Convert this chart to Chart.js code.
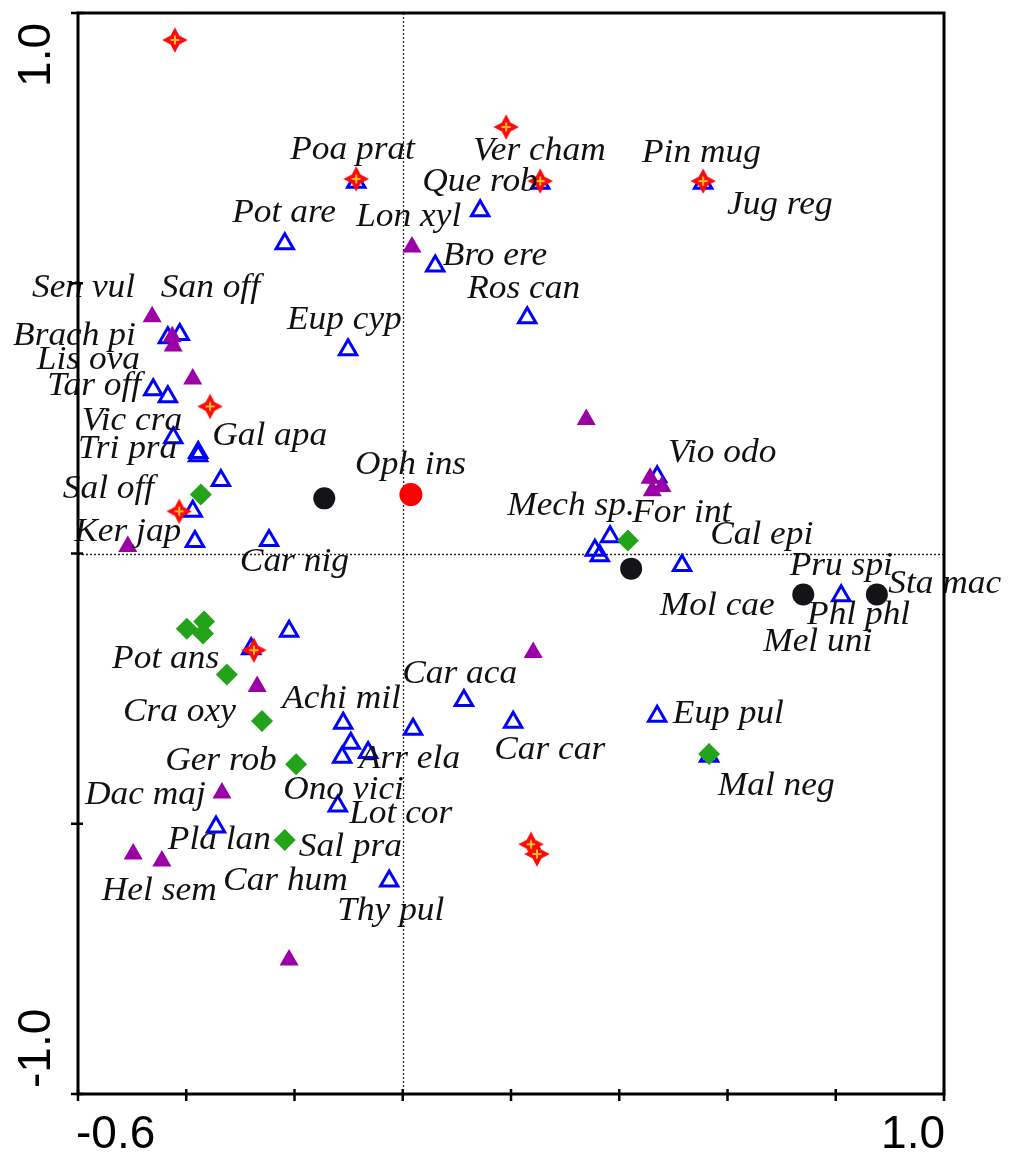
<!DOCTYPE html>
<html>
<head>
<meta charset="utf-8">
<script src="https://cdn.jsdelivr.net/npm/chart.js@4/dist/chart.umd.min.js"></script>
<style>
  html, body { margin: 0; padding: 0; background: #ffffff; }
  #wrap { width: 1009px; height: 1153px; }
</style>
</head>
<body>
<div id="wrap"><canvas id="ord" width="1009" height="1153"></canvas></div>
<script>
// Ordination scores (axis 1, axis 2) for each symbol group
const relevesStar = [
  [-0.421, 0.950], [-0.086, 0.693], [0.191, 0.789], [0.254, 0.689], [0.555, 0.689],
  [-0.356, 0.272], [-0.413, 0.078], [-0.275, -0.179], [0.237, -0.538], [0.248, -0.556]
];
const speciesOpen = [
  [-0.218, 0.573], [0.143, 0.634], [0.060, 0.532], [0.230, 0.436], [-0.101, 0.377],
  [-0.086, 0.687], [0.254, 0.685], [0.555, 0.685], [-0.412, 0.405], [-0.434, 0.399],
  [-0.461, 0.303], [-0.434, 0.290], [-0.424, 0.214], [-0.378, 0.187], [-0.378, 0.181],
  [-0.336, 0.135], [-0.388, 0.078], [-0.384, 0.022], [-0.247, 0.024], [0.383, 0.031],
  [0.355, 0.006], [0.364, -0.004], [0.516, -0.022], [0.810, -0.078], [0.470, 0.142],
  [-0.210, -0.144], [-0.280, -0.176], [-0.110, -0.314], [-0.096, -0.351], [-0.112, -0.377],
  [-0.064, -0.368], [0.019, -0.325], [0.113, -0.272], [0.204, -0.312], [-0.120, -0.467],
  [-0.345, -0.506], [-0.025, -0.606], [0.470, -0.301], [0.566, -0.375]
];
const speciesFilled = [
  [0.017, 0.567], [-0.463, 0.438], [-0.426, 0.401], [-0.424, 0.384], [-0.388, 0.323],
  [-0.508, 0.013], [0.339, 0.248], [0.457, 0.139], [0.479, 0.124], [0.461, 0.116],
  [-0.269, -0.246], [-0.334, -0.443], [-0.498, -0.556], [-0.445, -0.569], [0.241, -0.183],
  [-0.210, -0.752]
];
const speciesDiamond = [
  [-0.373, 0.109], [0.416, 0.024], [-0.399, -0.139], [-0.367, -0.126], [-0.369, -0.148],
  [-0.325, -0.224], [-0.260, -0.310], [-0.197, -0.390], [-0.218, -0.530], [0.566, -0.371]
];
const centroidsBlack = [[-0.145, 0.102], [0.422, -0.028], [0.740, -0.076], [0.876, -0.076]];
const ophrysPoint = [[0.015, 0.109]];

// Species abbreviations with the score position of the start of each name (left, baseline)
const speciesLabels = [
  ['Poa prat', -0.208, 0.730], ['Ver cham', 0.130, 0.728], ['Pin mug', 0.442, 0.724],
  ['Que rob', 0.036, 0.671], ['Jug reg', 0.599, 0.628], ['Pot are', -0.315, 0.613],
  ['Lon xyl', -0.086, 0.606], ['Bro ere', 0.074, 0.534], ['Ros can', 0.119, 0.473],
  ['Eup cyp', -0.214, 0.416], ['Sen vul', -0.685, 0.475], ['San off', -0.447, 0.475],
  ['Brach pi', -0.720, 0.386], ['Lis ova', -0.676, 0.342], ['Tar off', -0.657, 0.294],
  ['Vic cra', -0.593, 0.229], ['Tri pra', -0.600, 0.176], ['Gal apa', -0.352, 0.201],
  ['Sal off', -0.628, 0.102], ['Ker jap', -0.607, 0.024], ['Car nig', -0.301, -0.033],
  ['Oph ins', -0.088, 0.148], ['Mech sp.', 0.193, 0.072], ['For int', 0.424, 0.059],
  ['Vio odo', 0.490, 0.170], ['Cal epi', 0.568, 0.017], ['Pru spi', 0.715, -0.039],
  ['Sta mac', 0.897, -0.074], ['Mol cae', 0.475, -0.113], ['Phl phl', 0.747, -0.131],
  ['Mel uni', 0.666, -0.181], ['Pot ans', -0.537, -0.211], ['Car aca', -0.001, -0.240],
  ['Achi mil', -0.223, -0.285], ['Cra oxy', -0.517, -0.309], ['Eup pul', 0.499, -0.314],
  ['Car car', 0.169, -0.381], ['Ger rob', -0.439, -0.401], ['Arr ela', -0.081, -0.397],
  ['Mal neg', 0.582, -0.447], ['Dac maj', -0.587, -0.464], ['Ono vici', -0.221, -0.454],
  ['Lot cor', -0.099, -0.499], ['Pla lan', -0.434, -0.547], ['Sal pra', -0.192, -0.560],
  ['Hel sem', -0.556, -0.641], ['Car hum', -0.332, -0.623], ['Thy pul', -0.121, -0.678]
];

// Axis extents and tick positions
const xRange = [-0.6, 1.0];
const yRange = [-1.0, 1.0];
const xTicks = [-0.6, -0.4, -0.2, 0.0, 0.2, 0.4, 0.6, 0.8, 1.0];
const yTicks = [-1.0, -0.5, 0.0, 0.5, 1.0];
const xTickLabels = [[-0.6, '-0.6'], [1.0, '1.0']];
const yTickLabels = [[1.0, '1.0'], [-1.0, '-1.0']];

const toPts = arr => arr.map(p => ({ x: p[0], y: p[1] }));

// four-pointed red star with a small yellow cross in the middle
function makeStar() {
  const c = document.createElement('canvas');
  c.width = 26; c.height = 26;
  const g = c.getContext('2d');
  const cx = 13, cy = 13, ro = 11.5, ri = 5.6;
  g.beginPath();
  for (let i = 0; i < 8; i++) {
    const a = -Math.PI / 2 + i * Math.PI / 4;
    const r = i % 2 === 0 ? ro : ri;
    const px = cx + Math.cos(a) * r, py = cy + Math.sin(a) * r;
    if (i === 0) g.moveTo(px, py); else g.lineTo(px, py);
  }
  g.closePath();
  g.fillStyle = '#ff0a0a';
  g.fill();
  g.strokeStyle = '#ff0a0a';
  g.lineWidth = 1.2;
  g.stroke();
  g.fillStyle = '#ffbf1a';
  g.fillRect(cx - 4.5, cy - 1, 9, 2);
  g.fillRect(cx - 1, cy - 4.5, 2, 9);
  return c;
}
const starImg = makeStar();

const frameAndLabels = {
  id: 'frameAndLabels',
  beforeDatasetsDraw(chart) {
    const { ctx, scales: { x, y } } = chart;
    ctx.save();
    ctx.strokeStyle = '#222';
    ctx.lineWidth = 1.3;
    ctx.setLineDash([2, 2]);
    const x0 = Math.round(x.getPixelForValue(0)) + 0.5;
    const y0 = Math.round(y.getPixelForValue(0)) + 0.5;
    ctx.beginPath();
    ctx.moveTo(x0, y.getPixelForValue(yRange[1]));
    ctx.lineTo(x0, y.getPixelForValue(yRange[0]));
    ctx.moveTo(x.getPixelForValue(xRange[0]), y0);
    ctx.lineTo(x.getPixelForValue(xRange[1]), y0);
    ctx.stroke();
    ctx.restore();
  },
  afterDatasetsDraw(chart) {
    const { ctx, scales: { x, y } } = chart;
    ctx.save();
    ctx.fillStyle = '#111';
    ctx.font = 'italic 34px "Liberation Serif", "Times New Roman", serif';
    ctx.textAlign = 'left';
    ctx.textBaseline = 'alphabetic';
    speciesLabels.forEach(([t, lx, ly]) => {
      ctx.save();
      ctx.translate(x.getPixelForValue(lx), y.getPixelForValue(ly));
      ctx.scale(1.04, 1);
      ctx.fillText(t, 0, 0);
      ctx.restore();
    });
    ctx.restore();
  },
  afterDraw(chart) {
    const { ctx, scales: { x, y } } = chart;
    const L = x.getPixelForValue(xRange[0]), R = x.getPixelForValue(xRange[1]);
    const T = y.getPixelForValue(yRange[1]), B = y.getPixelForValue(yRange[0]);
    ctx.save();
    ctx.strokeStyle = '#000';
    ctx.lineWidth = 3;
    ctx.lineCap = 'butt';
    ctx.beginPath();
    ctx.rect(L, T, R - L, B - T);
    ctx.stroke();
    ctx.lineWidth = 2.5;
    ctx.beginPath();
    xTicks.forEach(v => {
      const px = x.getPixelForValue(v);
      ctx.moveTo(px, B - 5); ctx.lineTo(px, B + 7);
    });
    yTicks.forEach(v => {
      const py = y.getPixelForValue(v);
      ctx.moveTo(L - 7, py); ctx.lineTo(L + 5, py);
    });
    ctx.stroke();

    ctx.fillStyle = '#000';
    ctx.font = '46px "Liberation Sans", Arial, sans-serif';
    ctx.textBaseline = 'alphabetic';
    xTickLabels.forEach(([v, t]) => {
      const px = x.getPixelForValue(v);
      ctx.textAlign = v === xRange[0] ? 'left' : 'right';
      ctx.fillText(t, v === xRange[0] ? px - 2 : px + 1, B + 54);
    });
    yTickLabels.forEach(([v, t]) => {
      const py = y.getPixelForValue(v);
      ctx.save();
      ctx.translate(L - 28, v === yRange[1] ? py + 10 : py - 6);
      ctx.rotate(-Math.PI / 2);
      ctx.textAlign = v === yRange[1] ? 'right' : 'left';
      ctx.fillText(t, 0, 0);
      ctx.restore();
    });
    ctx.restore();
  }
};

new Chart(document.getElementById('ord'), {
  type: 'scatter',
  data: {
    datasets: [
      { label: 'open', data: toPts(speciesOpen), pointStyle: 'triangle', pointRadius: 10,
        backgroundColor: 'rgba(255,255,255,0)', borderColor: '#0000ff', borderWidth: 3, order: 6 },
      { label: 'filled', data: toPts(speciesFilled), pointStyle: 'triangle', pointRadius: 11,
        backgroundColor: '#9a00a6', borderColor: '#9a00a6', borderWidth: 0, order: 5 },
      { label: 'diamond', data: toPts(speciesDiamond), pointStyle: 'rectRot', pointRadius: 11,
        backgroundColor: '#22a31a', borderColor: '#22a31a', borderWidth: 0, order: 4 },
      { label: 'centroids', data: toPts(centroidsBlack), pointStyle: 'circle', pointRadius: 11,
        backgroundColor: '#141418', borderColor: '#141418', borderWidth: 0, order: 3 },
      { label: 'Oph ins', data: toPts(ophrysPoint), pointStyle: 'circle', pointRadius: 11.5,
        backgroundColor: '#ff0000', borderColor: '#ff0000', borderWidth: 0, order: 2 },
      { label: 'releves', data: toPts(relevesStar), pointStyle: starImg, pointRadius: 12, order: 1 }
    ]
  },
  options: {
    responsive: false,
    animation: false,
    events: [],
    layout: { padding: { left: 78, right: 65, top: 11, bottom: 59 } },
    plugins: { legend: { display: false }, tooltip: { enabled: false } },
    scales: {
      x: { type: 'linear', min: xRange[0], max: xRange[1], display: false },
      y: { type: 'linear', min: yRange[0], max: yRange[1], display: false }
    }
  },
  plugins: [frameAndLabels]
});
</script>
</body>
</html>
